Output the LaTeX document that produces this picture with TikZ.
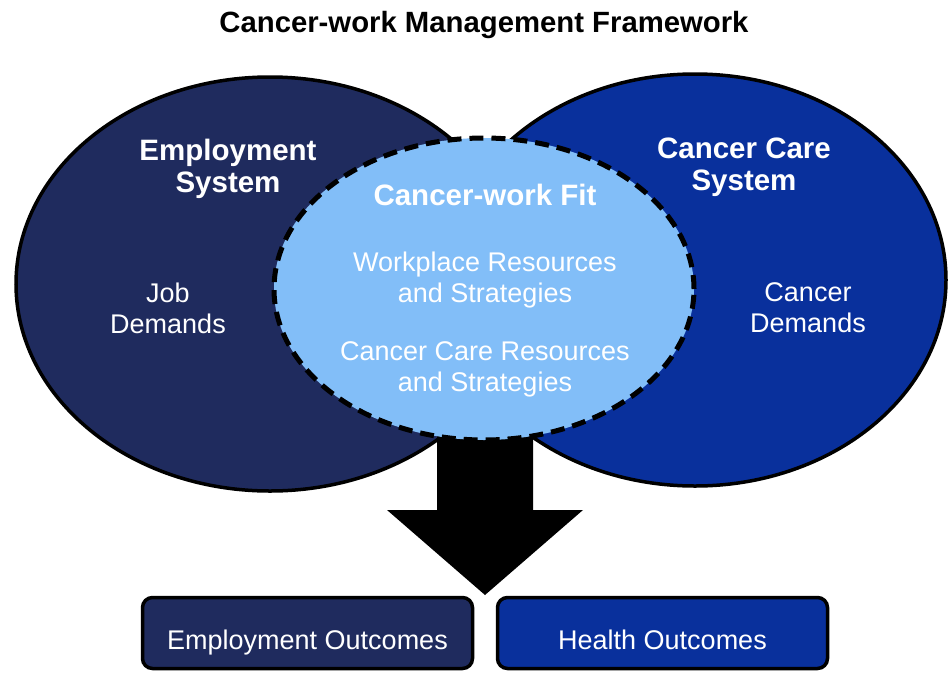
\documentclass[tikz,border=0pt]{standalone}
\usepackage{fontspec}
\setmainfont{Liberation Sans}
\usetikzlibrary{shapes.geometric}
\definecolor{navyL}{RGB}{31,43,94}
\definecolor{blueR}{RGB}{9,48,156}
\definecolor{lightB}{RGB}{130,190,248}
\begin{document}
\begin{tikzpicture}[x=1pt,y=-1pt,
  outerell/.style={ellipse, draw=black, line width=3.5pt, inner sep=0pt},
  fitell/.style={ellipse, draw=black, line width=5pt, dash pattern=on 14pt off 8pt,
                 fill=lightB, inner sep=0pt, minimum width=420pt, minimum height=302pt},
  headtxt/.style={text=white, font=\bfseries\fontsize{29.5}{32}\selectfont, align=center, inner sep=0pt},
  bodytxt/.style={text=white, font=\fontsize{27}{31}\selectfont, align=center, inner sep=0pt},
  outbox/.style={draw=black, line width=3.5pt, rounded corners=10pt,
                 minimum width=330pt, minimum height=71pt, inner sep=0pt},
  blockarrow/.style={fill=black}
]
\useasboundingbox[fill=white] (0,0) rectangle (950,672);

% title
\node[font=\bfseries\fontsize{29.3}{32}\selectfont, anchor=base, inner sep=0pt] (title) at (484,32) {Cancer-work Management Framework};

% outer ellipses
\node[outerell, fill=navyL, minimum width=508pt, minimum height=414pt] (emp) at (270,284) {};
\node[outerell, fill=blueR, minimum width=502pt, minimum height=412pt] (care) at (695,280) {};

% block arrow
\coordinate (arrowtip) at (485,595);
\fill[blockarrow] (437,400) -- (533,400) -- (533,510) -- (583,510) -- (arrowtip) -- (387,510) -- (437,510) -- cycle;

% middle ellipse
\node[fitell] (fit) at (484,289) {};

% texts
\node[headtxt] (empT) at (228,169) {Employment\\System};
\node[headtxt] (careT) at (744,167) {Cancer Care\\System};
\node[headtxt, anchor=base] (fitT) at (485,205) {Cancer-work Fit};
\node[bodytxt] (wpT) at (485,280) {Workplace Resources\\and Strategies};
\node[bodytxt] (ccT) at (485,369) {Cancer Care Resources\\and Strategies};
\node[bodytxt] (jobT) at (168,308) {Job\\Demands};
\node[bodytxt] (cdT) at (808,308) {Cancer\\Demands};

% outcome boxes
\node[outbox, fill=navyL] (empO) at (307.5,633) {};
\node[outbox, fill=blueR] (healthO) at (662.5,633) {};
\node[bodytxt, anchor=base] (empOT) at (307.5,649) {Employment Outcomes};
\node[bodytxt, anchor=base] (healthOT) at (662.5,649) {Health Outcomes};
\end{tikzpicture}
\end{document}
